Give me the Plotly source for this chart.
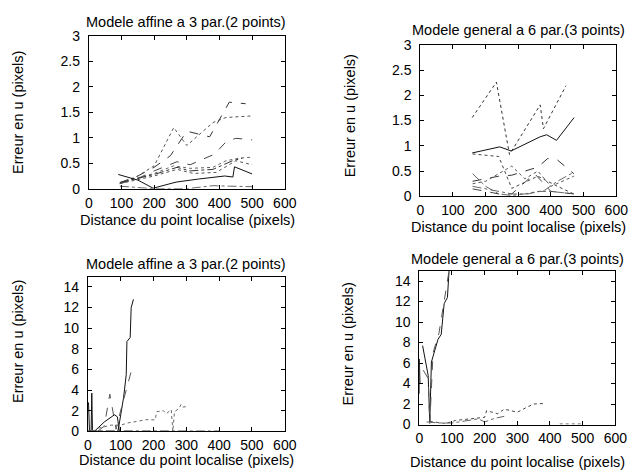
import plotly.graph_objects as go

W, H = 639, 476

# ---------- Data: top-left (affine, 2 points) ----------
tl_x = [
    [95, 150, 200, 250, 300, 370, 430, 480],
    [95, 150, 200, 260, 300, 380, 420, 500],
    [95, 150, 200, 270, 310, 385, 420, 450, 500],
    [95, 200, 260, 310, 380, 420, 460, 500],
    [95, 200, 270, 310, 380, 440, 470],
    [95, 200, 270, 320, 390, 450, 500],
    [90, 150, 197, 267, 336, 416, 441, 446, 500],
    [95, 200, 300, 380, 430, 500],
]
tl_y = [
    [0.12, 0.25, 0.42, 0.65, 1.13, 1.02, 1.70, 1.67],
    [0.10, 0.25, 0.45, 1.20, 0.85, 1.30, 1.40, 1.43],
    [0.10, 0.20, 0.35, 0.53, 0.47, 0.68, 0.92, 0.99, 0.96],
    [0.12, 0.30, 0.45, 0.40, 0.42, 0.55, 0.60, 0.62],
    [0.12, 0.28, 0.42, 0.35, 0.38, 0.55, 0.60],
    [0.10, 0.25, 0.38, 0.30, 0.32, 0.55, 0.47],
    [0.28, 0.17, 0.01, 0.13, 0.19, 0.25, 0.23, 0.43, 0.29],
    [0.05, 0.00, 0.00, 0.06, 0.05, 0.04],
]
tl_dash = ["dash", "dot", "dash", "dot", "dashdot", "dot", "solid", "dashdot"]

# ---------- Data: top-right (general, 3 points) ----------
tr_x = [
    [159, 233, 273, 367, 377, 446],
    [159, 243, 278, 367, 387, 417, 471],
    [160, 240, 280, 330, 360, 420, 470],
    [160, 200, 240, 280, 320, 360, 400, 470],
    [160, 240, 280, 320, 360, 390, 420, 470],
    [160, 200, 280, 320, 360, 400, 470],
    [160, 200, 240, 280, 350, 400, 470],
    [160, 240, 280, 330, 380, 420, 470],
]
tr_y = [
    [1.56, 2.26, 0.83, 1.81, 1.34, 2.19],
    [0.86, 0.98, 0.90, 1.18, 1.22, 1.11, 1.56],
    [0.84, 0.79, 0.16, 0.30, 0.40, 0.20, 0.05],
    [0.45, 0.20, 0.05, 0.02, 0.05, 0.10, 0.10, 0.05],
    [0.30, 0.40, 0.42, 0.50, 0.58, 0.75, 0.72, 0.45],
    [0.25, 0.30, 0.60, 0.35, 0.50, 0.20, 0.40],
    [0.15, 0.10, 0.05, 0.05, 0.45, 0.10, 0.05],
    [0.20, 0.10, 0.05, 0.05, 0.12, 0.30, 0.48],
]
tr_dash = ["dot", "solid", "dot", "dashdot", "dash", "dot", "dash", "dashdot"]

# ---------- Data: bottom-left (affine, 2 points) ----------
bl_x = [
    [91, 94, 109, 117, 119, 124, 129, 132, 139],
    [30, 50, 67, 86, 100, 117, 124, 132, 140],
    [20, 50, 81, 90, 96],
    [32, 71, 101, 120, 180, 205, 210, 230, 239, 249, 254, 259, 264, 277, 284, 289, 304],
    [2, 3, 5, 10, 12, 14, 16, 40],
    [0, 100, 200, 300, 400],
]
bl_y = [
    [0.0, 0.4, 3.3, 5.5, 8.7, 8.9, 9.1, 12.0, 12.8],
    [0.0, 0.5, 3.6, 0.2, 2.0, 4.0, 4.8, 5.8, 6.3],
    [0.0, 0.9, 1.6, 1.4, 0.0],
    [0.3, 0.6, 0.6, 0.8, 1.13, 1.1, 1.9, 2.0, 1.7, 2.0, 2.1, 0.0, 1.9, 2.2, 2.6, 2.35, 2.4],
    [2.8, 0.2, 0.0, 0.1, 3.7, 0.2, 0.0, 0.0],
    [0.05, 0.03, 0.02, 0.02, 0.02],
]
bl_dash = ["solid", "dash", "solid", "dot", "solid", "dashdot"]

# ---------- Data: bottom-right (general, 3 points) ----------
br_x = [
    [10, 27, 32, 37, 57, 67, 76, 86, 91],
    [12, 27, 32, 42, 60, 71, 91],
    [32, 81, 111, 200, 206, 240, 260, 300, 330, 350, 379],
    [22, 60, 101, 181, 200, 230, 260],
    [0, 0, 2],
    [430, 470, 500],
]
br_y = [
    [7.7, 4.8, 0.25, 6.1, 8.3, 8.8, 11.8, 12.4, 15.0],
    [5.3, 4.5, 0.1, 7.0, 8.9, 11.2, 15.0],
    [0.3, 0.1, 0.4, 0.7, 1.35, 1.05, 1.5, 1.2, 1.7, 2.0, 2.05],
    [0.25, 0.15, 0.15, 0.55, 0.25, 0.6, 0.8],
    [3.0, 6.4, 4.0],
    [0.05, 0.05, 0.05],
]
br_dash = ["solid", "dash", "dot", "dashdot", "solid", "dot"]

titles = ["Modele affine a 3 par.(2 points)", "Modele general a 6 par.(3 points)",
          "Modele affine a 3 par.(2 points)", "Modele general a 6 par.(3 points)"]
xtitle = "Distance du point localise (pixels)"
ytitle = "Erreur en u (pixels)"

FONT = "Liberation Sans, Arial, sans-serif"
FS = 14.5
TFS = 14


def px(x):
    return x / W


def py(y):
    return 1 - y / H


# plot boxes in pixels: (left, right, top, bottom)
boxes = [(87, 288, 29, 187), (427, 628, 38, 195), (86, 288, 278, 438), (426, 627, 272, 431)]
yranges = [[0, 3], [0, 3], [0, 15], [0, 15]]
ytickvals = [[0, 0.5, 1, 1.5, 2, 2.5, 3], [0, 0.5, 1, 1.5, 2, 2.5, 3],
             [0, 2, 4, 6, 8, 10, 12, 14], [0, 2, 4, 6, 8, 10, 12, 14]]
yticktext = [["0", "0.5", "1", "1.5", "2", "2.5", "3"], ["0", "0.5", "1", "1.5", "2", "2.5", "3"],
             ["0", "2", "4", "6", "8", "10", "12", "14"], ["0", "2", "4", "6", "8", "10", "12", "14"]]
title_pos = [(187, 14), (528, 23), (187, 265), (527, 260)]
xtitle_pos = [(188, 219), (528, 227), (187, 468), (527, 470)]
ytitle_pos = [(15, 108), (355, 112), (15, 345), (353, 348)]

fig = go.Figure()
datasets = [(tl_x, tl_y, tl_dash), (tr_x, tr_y, tr_dash), (bl_x, bl_y, bl_dash), (br_x, br_y, br_dash)]
greys = ["#333333", "#555555", "#444444", "#666666"]

for i, (xs, ys, dashes) in enumerate(datasets):
    ax = "" if i == 0 else str(i + 1)
    for j, (x, y, d) in enumerate(zip(xs, ys, dashes)):
        fig.add_trace(go.Scatter(
            x=x, y=y, mode="lines", xaxis="x" + ax, yaxis="y" + ax,
            line=dict(color="#111111" if d == "solid" else greys[j % 4], width=1, dash=d),
            showlegend=False, hoverinfo="skip", cliponaxis=True))
    l, r, t, b = boxes[i]
    common = dict(showline=True, linecolor="black", linewidth=1, mirror="ticks",
                  ticks="inside", ticklen=4, tickcolor="black", showgrid=False,
                  zeroline=False, tickfont=dict(family=FONT, size=TFS, color="black"))
    fig.layout["xaxis" + ax] = dict(domain=[px(l), px(r)], range=[0, 600],
                                    tickvals=[0, 100, 200, 300, 400, 500, 600],
                                    ticklabelstandoff=1,
                                    anchor="y" + ax, **common)
    fig.layout["yaxis" + ax] = dict(domain=[py(b), py(t)], range=yranges[i],
                                    tickvals=ytickvals[i], ticktext=yticktext[i],
                                    ticklabelstandoff=5,
                                    anchor="x" + ax, **common)

annotations = []
for i in range(4):
    tx, ty = title_pos[i]
    annotations.append(dict(text=titles[i], x=px(tx), y=py(ty), xref="paper", yref="paper",
                            showarrow=False, xanchor="center", yanchor="middle",
                            font=dict(family=FONT, size=FS, color="black")))
    xx, xy = xtitle_pos[i]
    annotations.append(dict(text=xtitle, x=px(xx), y=py(xy), xref="paper", yref="paper",
                            showarrow=False, xanchor="center", yanchor="middle",
                            font=dict(family=FONT, size=FS, color="black")))
    yx, yy = ytitle_pos[i]
    annotations.append(dict(text=ytitle, x=px(yx), y=py(yy), xref="paper", yref="paper",
                            showarrow=False, xanchor="center", yanchor="middle", textangle=-90,
                            font=dict(family=FONT, size=FS, color="black")))

fig.update_layout(width=W, height=H, margin=dict(l=0, r=0, t=0, b=0),
                  paper_bgcolor="white", plot_bgcolor="white",
                  annotations=annotations, showlegend=False)

fig.write_html("out.html")
